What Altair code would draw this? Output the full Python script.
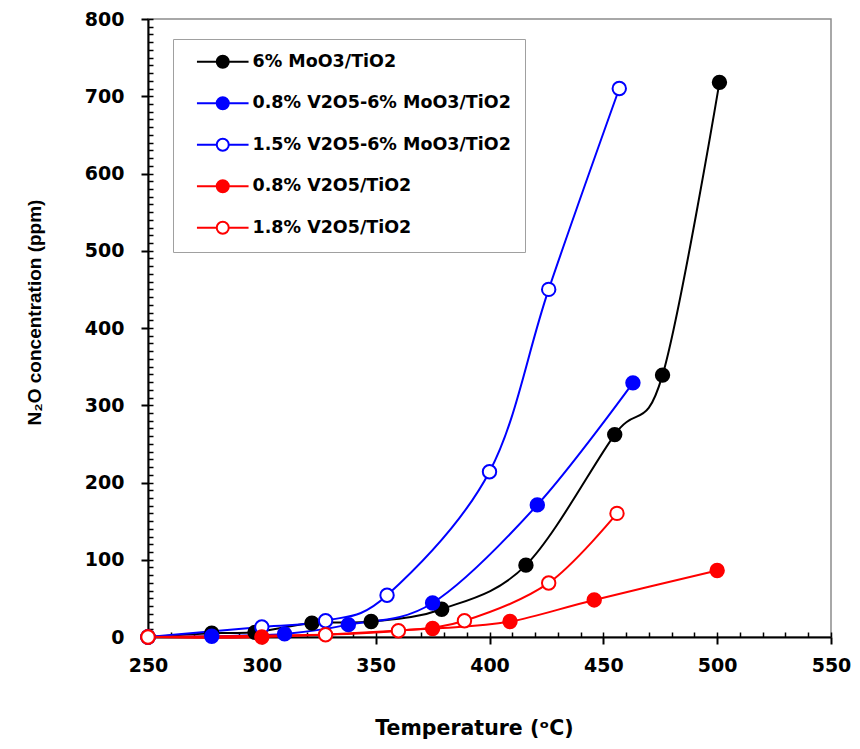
import altair as alt
import pandas as pd

# ---------------- data ----------------
series_names = [
    "6% MoO3/TiO2",
    "0.8% V2O5-6% MoO3/TiO2",
    "1.5% V2O5-6% MoO3/TiO2",
    "0.8% V2O5/TiO2",
    "1.8% V2O5/TiO2",
]
stroke_colors = ["#000000", "#0000ff", "#0000ff", "#ff0000", "#ff0000"]
fill_colors = ["#000000", "#0000ff", "#ffffff", "#ff0000", "#ffffff"]

t_moo3 = [250, 278, 297, 322, 348, 379, 416, 455, 476, 501]
n2o_moo3 = [0, 5, 6, 18, 20, 36, 93, 262, 339, 718]

t_v08_moo3 = [250, 278, 310, 338, 375, 421, 463]
n2o_v08_moo3 = [0, 1, 4, 16, 44, 171, 329]

t_v15_moo3 = [250, 300, 328, 355, 400, 426, 457]
n2o_v15_moo3 = [0, 13, 21, 54, 214, 450, 710]

t_v08 = [250, 300, 375, 409, 446, 500]
n2o_v08 = [0, 0, 11, 20, 48, 86]

t_v18 = [250, 328, 360, 389, 426, 456]
n2o_v18 = [0, 3, 8, 21, 70, 160]

x_major = list(range(250, 551, 50))
x_minor = list(range(250, 551, 10))
y_major = list(range(0, 801, 100))
y_minor = list(range(0, 801, 10))

temps = [t_moo3, t_v08_moo3, t_v15_moo3, t_v08, t_v18]
vals = [n2o_moo3, n2o_v08_moo3, n2o_v15_moo3, n2o_v08, n2o_v18]

rows = []
for i, (name, ts, vs) in enumerate(zip(series_names, temps, vals)):
    for t, v in zip(ts, vs):
        rows.append({"series": name, "T": t, "N2O": v, "k": i})
df = pd.DataFrame(rows)

# ---------------- chart ----------------
xscale = alt.Scale(domain=[250, 550], nice=False, zero=False)
yscale = alt.Scale(domain=[0, 800], nice=False)
stroke_scale = alt.Scale(domain=series_names, range=stroke_colors)
fill_scale = alt.Scale(domain=series_names, range=fill_colors)

SYM = ("M-4.3,0L-1,0M1,0L4.3,0"
       "M1,0C1,0.5523,0.5523,1,0,1C-0.5523,1,-1,0.5523,-1,0"
       "C-1,-0.5523,-0.5523,-1,0,-1C0.5523,-1,1,-0.5523,1,0Z")

legend_def = alt.Legend(
    title=None, orient="none", legendX=25, legendY=20,
    symbolType=SYM, symbolSize=144, symbolStrokeWidth=2,
    labelFont="DejaVu Sans", labelFontSize=17.5, labelFontWeight="bold",
    labelColor="#000000", labelLimit=0, padding=14, rowPadding=20.5,
    strokeColor="#a0a0a0", fillColor="#ffffff",
    symbolOffset=27, labelOffset=21,
)

base = alt.Chart(df)

major_x = alt.Axis(
    orient="bottom", values=x_major, title="Temperature (ᵒC)",
    tickSize=7, tickWidth=2, tickColor="#000000",
    domainColor="#000000", domainWidth=2, grid=False, labelFlush=False,
    labelFont="DejaVu Sans", labelFontSize=19, labelFontWeight="bold",
    labelColor="#000000", labelPadding=12,
    titleFont="DejaVu Sans", titleFontSize=20.5, titleFontWeight="bold",
    titleColor="#000000", titlePadding=43, titleX=326)
major_y = alt.Axis(
    orient="left", values=y_major, title="N₂O concentration (ppm)",
    tickSize=7, tickWidth=2, tickColor="#000000",
    domainColor="#000000", domainWidth=2, grid=False, labelFlush=False,
    labelFont="DejaVu Sans", labelFontSize=19, labelFontWeight="bold",
    labelColor="#000000", labelPadding=17,
    titleFont="Liberation Sans", titleFontSize=19, titleFontWeight="bold",
    titleColor="#000000", titlePadding=40, titleY=293)
minor_x = alt.Axis(
    orient="bottom", values=x_minor, labels=False, domain=False, title=None,
    offset=-5, tickSize=5, tickWidth=1.5, tickColor="#000000", grid=False)
minor_y = alt.Axis(
    orient="left", values=y_minor, labels=False, domain=False, title=None,
    offset=-5, tickSize=5, tickWidth=1.5, tickColor="#000000", grid=False)

layers = []
for i, name in enumerate(series_names):
    if i == 0:
        ax, ay = minor_x, minor_y
    else:
        ax, ay = None, None
    layers.append(
        base.transform_filter(alt.datum.series == name)
        .mark_line(interpolate="cardinal", strokeWidth=2, color=stroke_colors[i])
        .encode(
            x=alt.X("T:Q", scale=xscale, axis=ax),
            y=alt.Y("N2O:Q", scale=yscale, axis=ay),
        )
    )

points = base.mark_point(filled=True, size=180, strokeWidth=2, opacity=1).encode(
    x=alt.X("T:Q", scale=xscale, axis=major_x),
    y=alt.Y("N2O:Q", scale=yscale, axis=major_y),
    stroke=alt.Stroke("series:N", scale=stroke_scale, legend=legend_def),
    fill=alt.Fill("series:N", scale=fill_scale, legend=legend_def),
)
layers.append(points)

chart = alt.layer(*layers).resolve_axis(
    x="independent", y="independent"
).properties(
    width=683, height=618,
    autosize=alt.AutoSizeParams(type="none"),
    padding={"left": 140, "top": 11, "right": 21, "bottom": 104},
).configure_view(stroke="#8c8c8c", strokeWidth=1.5)

chart.save("out.html", embed_options={"renderer": "svg", "actions": False})
